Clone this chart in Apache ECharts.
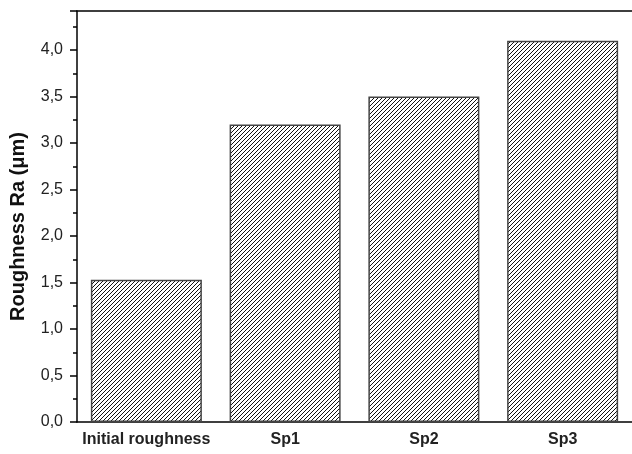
<!DOCTYPE html>
<html>
<head>
<meta charset="utf-8">
<script src="https://cdn.jsdelivr.net/npm/echarts@6/dist/echarts.min.js"></script>
<style>html,body{margin:0;padding:0;background:#fff;}#c{width:632px;height:454px;}</style>
</head>
<body>
<div id="c"></div>
<script>
var categories = ['Initial roughness', 'Sp1', 'Sp2', 'Sp3'];
var roughness = [1.53, 3.20, 3.50, 4.10];
var yTitle = 'Roughness Ra (\u03bcm)';

var pc = document.createElement('canvas');
pc.width = 4; pc.height = 4;
var g = pc.getContext('2d');
g.fillStyle = '#fff'; g.fillRect(0, 0, 4, 4);
g.strokeStyle = '#111'; g.lineWidth = 1.0;
[0, 4, 8].forEach(function (k) {
  g.beginPath(); g.moveTo(k + 1, -1); g.lineTo(k - 5, 5); g.stroke();
});

var chart = echarts.init(document.getElementById('c'), null, {renderer: 'canvas'});
var font = 'Liberation Sans, Arial, sans-serif';
chart.setOption({
  animation: false,
  backgroundColor: '#fff',
  grid: {left: 76, top: 11, right: -4, bottom: 32, containLabel: false},
  xAxis: [{
    type: 'category', data: categories, position: 'bottom',
    axisLine: {lineStyle: {color: '#000', width: 1.5}},
    axisTick: {alignWithLabel: true, length: 6, lineStyle: {color: '#000', width: 1.5}},
    axisLabel: {interval: 0, fontFamily: font, fontWeight: 'bold', fontSize: 16, color: '#222', margin: 10}
  }, {
    type: 'category', data: categories, position: 'bottom',
    axisLine: {show: false},
    axisTick: {length: 4, lineStyle: {color: '#000', width: 1.5}},
    axisLabel: {show: false}
  }, {
    type: 'category', data: categories, position: 'top',
    axisLine: {lineStyle: {color: '#000', width: 1.5}},
    axisTick: {alignWithLabel: false, inside: true, length: 2, lineStyle: {color: '#000', width: 1}},
    axisLabel: {show: false}
  }],
  yAxis: [{
    type: 'value', min: 0, max: 4.42, interval: 0.5, position: 'left',
    name: yTitle, nameLocation: 'middle', nameGap: 49,
    nameTextStyle: {fontFamily: font, fontWeight: 'bold', fontSize: 20, color: '#111', padding: [0, 20, 0, 0]},
    axisLine: {show: true, lineStyle: {color: '#000', width: 1.5}},
    axisTick: {show: true, length: 7, lineStyle: {color: '#000', width: 1.5}},
    minorTick: {show: true, splitNumber: 2, length: 4, lineStyle: {color: '#000', width: 1.5}},
    splitLine: {show: false},
    axisLabel: {fontFamily: font, fontSize: 16, color: '#222', margin: 14, showMaxLabel: false,
      formatter: function (v) { return v.toFixed(1).replace('.', ','); }}
  }],
  series: [{
    type: 'bar', data: roughness, xAxisIndex: 0, yAxisIndex: 0, barWidth: '80%',
    itemStyle: {color: {image: pc, repeat: 'repeat'}, borderColor: '#444', borderWidth: 1.5}
  }]
});
</script>
</body>
</html>
